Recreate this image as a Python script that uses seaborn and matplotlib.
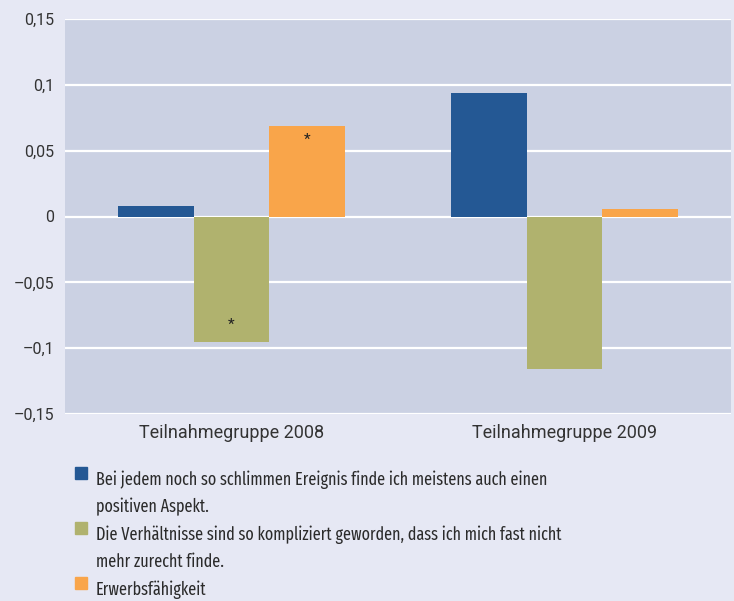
import matplotlib
matplotlib.use("Agg")
import matplotlib.pyplot as plt
import matplotlib.patches as mpatches
from matplotlib.ticker import FuncFormatter, FixedLocator
import seaborn as sns
import pandas as pd

groups = ["Teilnahmegruppe 2008", "Teilnahmegruppe 2009"]
series = [
    "Bei jedem noch so schlimmen Ereignis finde ich meistens auch einen\npositiven Aspekt.",
    "Die Verhältnisse sind so kompliziert geworden, dass ich mich fast nicht\nmehr zurecht finde.",
    "Erwerbsfähigkeit",
]
values_positiv = [0.008, 0.094]
values_kompliziert = [-0.095, -0.116]
values_erwerb = [0.069, 0.006]
significant = [[False, False], [True, False], [True, False]]
colors = ["#245894", "#B0B26E", "#F9A54A"]
yticks = [-0.15, -0.1, -0.05, 0, 0.05, 0.1, 0.15]

rows = []
for s, vals in zip(series, [values_positiv, values_kompliziert, values_erwerb]):
    for g, v in zip(groups, vals):
        rows.append({"Gruppe": g, "Item": s, "Wert": v})
df = pd.DataFrame(rows)

sns.set_theme(style="white")
plt.rcParams["font.family"] = ["Roboto", "DejaVu Sans"]

fig = plt.figure(figsize=(7.34, 6.01), dpi=100, facecolor="#E6E8F4")
ax = fig.add_axes([65/734, 1-414/601, 666/734, 395/601])
ax.set_facecolor("#CBD1E3")

sns.barplot(data=df, x="Gruppe", y="Wert", hue="Item", order=groups,
            hue_order=series, palette=colors, width=0.684, dodge=True,
            saturation=1, legend=False, ax=ax, zorder=3, linewidth=0)

ax.set_ylim(-0.15, 0.15)
ax.yaxis.set_major_locator(FixedLocator(yticks))
ax.yaxis.set_major_formatter(FuncFormatter(
    lambda v, p: ("\u2013" if v < -1e-9 else "") + f"{abs(v):g}".replace(".", ",")))
ax.grid(axis="y", color="white", linewidth=1.6, zorder=1)
ax.set_axisbelow(True)
for sp in ax.spines.values():
    sp.set_visible(False)
ax.tick_params(axis="both", length=0, labelcolor="#333333")
ax.tick_params(axis="y", pad=8, labelsize=11.5)
ax.tick_params(axis="x", pad=7, labelsize=13)
ax.set_xlabel("")
ax.set_ylabel("")

# significance asterisks
bars = [p for p in ax.patches if isinstance(p, mpatches.Rectangle) and p.get_width() > 0]
bars = sorted(bars, key=lambda b: b.get_x())
flat = []
for gi in range(len(groups)):
    for si in range(len(series)):
        flat.append((si, gi))
all_vals = [values_positiv, values_kompliziert, values_erwerb]
for b, (si, gi) in zip(bars, flat):
    if significant[si][gi]:
        val = all_vals[si][gi]
        y = val - (0.011 if val > 0 else -0.013)
        ax.text(b.get_x() + b.get_width()/2, y, "*", ha="center", va="center",
                fontsize=11, color="#222222", zorder=5)

# legend (square + wrapped label lines)
leg_base = [485, 540, 595]
line_step = 27
for col, lab, yb in zip(colors, series, leg_base):
    fig.patches.append(mpatches.Rectangle((75/734, 1-(yb-6)/601), 12/734, 12/601,
                                          transform=fig.transFigure, color=col))
    for k, line in enumerate(lab.split("\n")):
        fig.text(96/734, 1-(yb + k*line_step)/601, line, ha="left", va="baseline",
                 fontsize=12.6, family=["Fira Sans Extra Condensed", "DejaVu Sans"],
                 color="#2b2b2b")

fig.savefig("out.png", dpi=100, facecolor=fig.get_facecolor())
